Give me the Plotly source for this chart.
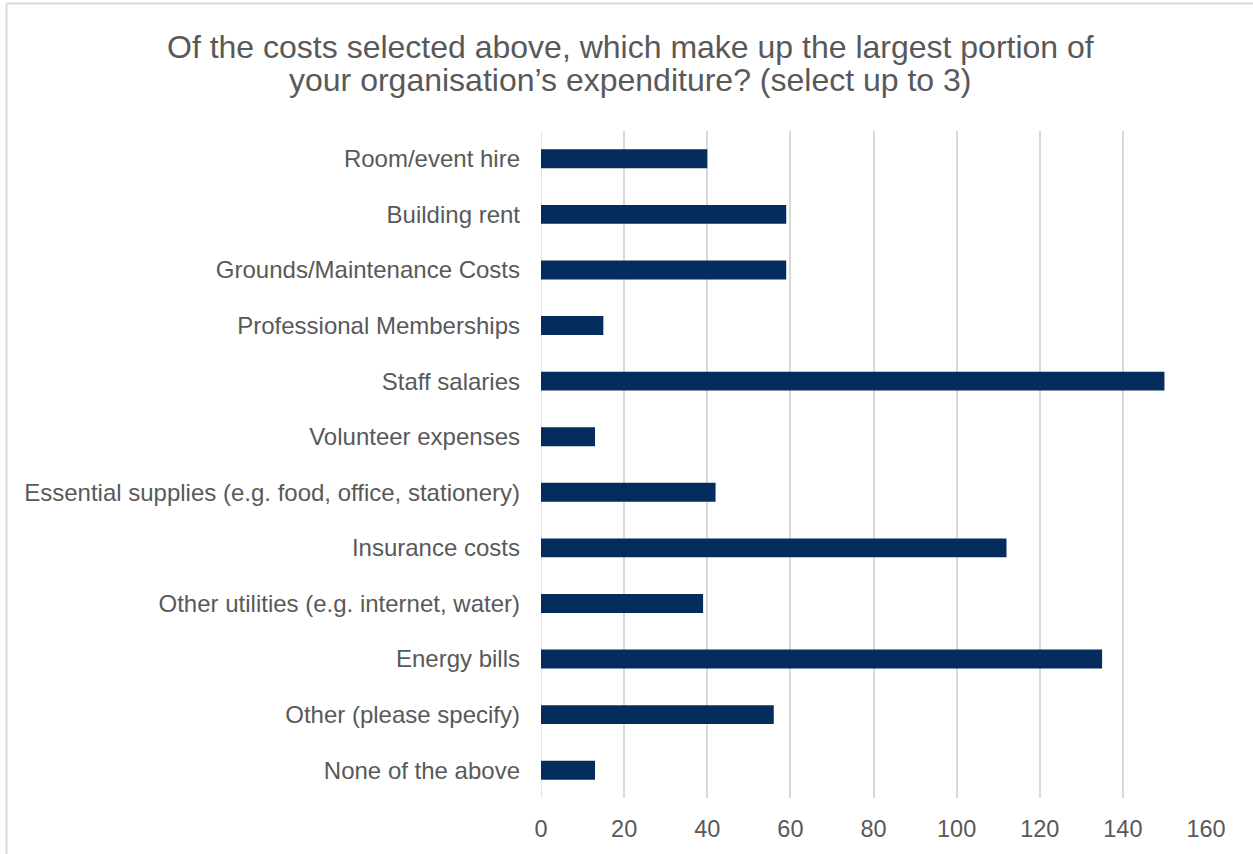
import plotly.graph_objects as go

categories = [
    "Room/event hire",
    "Building rent",
    "Grounds/Maintenance Costs",
    "Professional Memberships",
    "Staff salaries",
    "Volunteer expenses",
    "Essential supplies (e.g. food, office, stationery)",
    "Insurance costs",
    "Other utilities (e.g. internet, water)",
    "Energy bills",
    "Other (please specify)",
    "None of the above",
]
responses = [40, 59, 59, 15, 150, 13, 42, 112, 39, 135, 56, 13]
x_ticks = [0, 20, 40, 60, 80, 100, 120, 140, 160]
title_lines = [
    "Of the costs selected above, which make up the largest portion of",
    "your organisation’s expenditure? (select up to 3)",
]

W, H = 1253, 854
ML, MR, MT, MB = 541, 47, 131, 56
plot_w = W - ML - MR
plot_h = H - MT - MB


def px_to_paper_x(px):
    return (px - ML) / plot_w


def px_to_paper_y(py):
    return (H - MB - py) / plot_h


fig = go.Figure(
    go.Bar(
        y=categories,
        x=responses,
        orientation="h",
        marker=dict(color="#042d5d", line=dict(width=0)),
        hoverinfo="x+y",
    )
)

# two-line chart title, placed line by line
title_annotations = [
    dict(
        text=line,
        xref="paper",
        yref="paper",
        x=px_to_paper_x(630),
        y=px_to_paper_y(cy),
        xanchor="center",
        yanchor="middle",
        showarrow=False,
        font=dict(size=32, color="#595959"),
    )
    for line, cy in zip(title_lines, [47, 80])
]

fig.update_layout(
    width=W,
    height=H,
    margin=dict(l=ML, r=MR, t=MT, b=MB),
    paper_bgcolor="white",
    plot_bgcolor="white",
    bargap=0.66,
    showlegend=False,
    font=dict(family="Liberation Sans, Arial, sans-serif", color="#595959"),
    annotations=title_annotations,
    xaxis=dict(
        range=[0, 160],
        tickvals=x_ticks,
        showgrid=True,
        gridcolor="#d9d9d9",
        gridwidth=1.5,
        zeroline=False,
        showline=False,
        ticks="",
        tickfont=dict(size=23.5, color="#595959"),
        ticklabelstandoff=14,
    ),
    yaxis=dict(
        autorange="reversed",
        showgrid=False,
        zeroline=False,
        showline=False,
        ticks="",
        tickfont=dict(size=24, color="#595959"),
        ticklabelstandoff=20,
    ),
    shapes=[
        # zero line drawn at the axis origin
        dict(type="line", xref="x", yref="paper", x0=0, x1=0, y0=0, y1=1,
             line=dict(color="#d9d9d9", width=1.5), layer="below"),
        # chart frame: left and top edges
        dict(type="line", xref="paper", yref="paper",
             x0=px_to_paper_x(6.5), x1=px_to_paper_x(6.5),
             y0=px_to_paper_y(3.5), y1=px_to_paper_y(H + 5),
             line=dict(color="#d9d9d9", width=2)),
        dict(type="line", xref="paper", yref="paper",
             x0=px_to_paper_x(6.5), x1=px_to_paper_x(W + 5),
             y0=px_to_paper_y(3.5), y1=px_to_paper_y(3.5),
             line=dict(color="#d9d9d9", width=2)),
    ],
)

fig.write_html("out.html")
